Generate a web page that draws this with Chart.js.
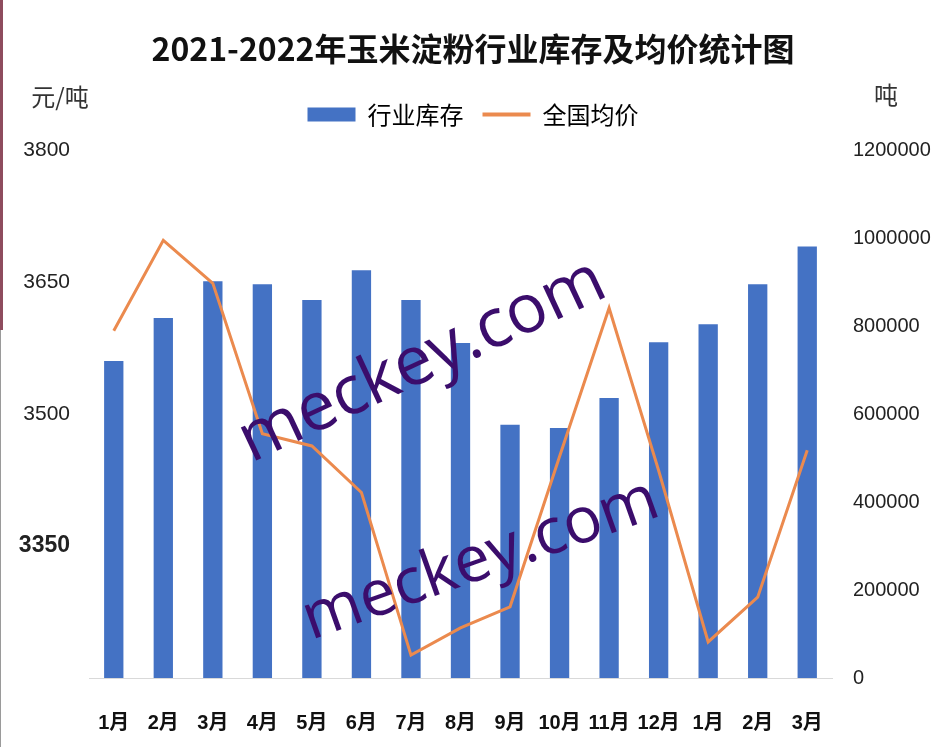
<!DOCTYPE html>
<html><head><meta charset="utf-8">
<script src="https://cdn.jsdelivr.net/npm/chart.js@4.4.0/dist/chart.umd.min.js"></script>
<style>
html,body{margin:0;padding:0;background:#fff;overflow:hidden}
#wrap{position:relative;width:946px;height:747px;background:#fff}
#edge{position:absolute;left:0;top:0;width:3px;height:330px;background:#8e4c5e}
#edge2{position:absolute;left:0;top:330px;width:1px;height:417px;background:#9a9a9a}
</style></head><body>
<div id="wrap"><canvas id="c" width="946" height="747"></canvas><div id="edge"></div><div id="edge2"></div></div>
<script>
const categories = ['1月','2月','3月','4月','5月','6月','7月','8月','9月','10月','11月','12月','1月','2月','3月'];
const inventory = [721000, 819000, 903000, 896000, 860000, 928000, 860000, 762000, 576000, 569000, 637000, 764000, 805000, 896000, 982000];
const avgPrice = [3595, 3698, 3649, 3478, 3464, 3411, 3226, 3257, 3281, 3452, 3621, 3436, 3241, 3292, 3459];
const leftTickLabels = [3350, 3500, 3650, 3800];
const titleText = '2021-2022年玉米淀粉行业库存及均价统计图';
const seriesNames = ['行业库存', '全国均价'];
const unitLeft = '元/吨';
const unitRight = '吨';
const watermarkText = 'meckey.com';

const CJK = '"Noto Sans CJK SC"';
const SANS = '"Liberation Sans", Arial, sans-serif';

const extras = {
  id: 'extras',
  afterDraw(chart) {
    const ctx = chart.ctx;
    ctx.save();
    ctx.fillStyle = '#333';
    ctx.font = '24px ' + CJK;
    ctx.textBaseline = 'middle';
    ctx.textAlign = 'center';
    ctx.fillText(unitLeft, 60, 97);
    ctx.fillText(unitRight, 886, 95);
    // watermarks
    ctx.fillStyle = '#3b0d6c';
    ctx.textAlign = 'left';
    ctx.textBaseline = 'alphabetic';
    const marks = [[251, 463, 610, 295], [311, 640, 663, 515]];
    marks.forEach(([x1, y1, x2, y2]) => {
      const len = Math.hypot(x2 - x1, y2 - y1);
      const ang = Math.atan2(y2 - y1, x2 - x1);
      ctx.font = '66px "Open Sans"';
      const w = ctx.measureText(watermarkText).width;
      const size = 66 * len / w;
      ctx.save();
      ctx.translate(x1, y1);
      ctx.rotate(ang);
      ctx.font = size.toFixed(1) + 'px "Open Sans"';
      ctx.fillText(watermarkText, 0, 0);
      ctx.restore();
    });
    ctx.restore();
  }
};

new Chart(document.getElementById('c'), {
  data: {
    labels: categories,
    datasets: [
      {
        type: 'bar', label: seriesNames[0], data: inventory, yAxisID: 'yR',
        backgroundColor: '#4472C4', borderWidth: 0, order: 2,
        categoryPercentage: 1, barPercentage: 0.39
      },
      {
        type: 'line', label: seriesNames[1], data: avgPrice, yAxisID: 'yL',
        borderColor: '#EB8A4E', backgroundColor: '#EB8A4E', borderWidth: 3,
        pointRadius: 0, tension: 0, order: 1
      }
    ]
  },
  options: {
    responsive: false, animation: false, devicePixelRatio: 1,
    layout: { padding: { left: 0, right: 0, top: 0, bottom: 0 } },
    plugins: {
      title: {
        display: true, text: titleText, color: '#111',
        font: { family: CJK, size: 32, weight: 'bold' },
        padding: { top: 30, bottom: 15 }
      },
      subtitle: {
        display: true, text: ' ', weight: 500,
        font: { size: 1 }, padding: { top: 0, bottom: 13 }
      },
      legend: {
        display: true, position: 'top',
        labels: {
          usePointStyle: true, pointStyleWidth: 48, boxHeight: 14,
          color: '#333', font: { family: CJK, size: 24 }, padding: 19,
          generateLabels(chart) {
            return chart.data.datasets.map((ds, i) => ({
              text: ds.label,
              fillStyle: ds.type === 'bar' ? '#4472C4' : '#EB8A4E',
              strokeStyle: ds.type === 'bar' ? '#4472C4' : '#EB8A4E',
              lineWidth: ds.type === 'bar' ? 0 : 4,
              pointStyle: ds.type === 'bar' ? 'rect' : 'line',
              datasetIndex: i, hidden: false
            }));
          }
        }
      },
      tooltip: { enabled: false }
    },
    scales: {
      x: {
        grid: { display: false, drawTicks: false },
        border: { display: true, color: '#d9d9d9', width: 1 },
        afterFit(s) { s.height = 69; },
        ticks: {
          color: '#111', padding: 33, maxRotation: 0, autoSkip: false,
          font: { family: '"Liberation Sans", ' + CJK, size: 20, weight: 'bold' }
        }
      },
      yL: {
        position: 'left', min: 3200, max: 3800,
        grid: { display: false, drawTicks: false },
        border: { display: false },
        afterFit(s) { s.width = 89; },
        ticks: {
          stepSize: 150, padding: 19, color: '#222',
          callback: v => leftTickLabels.includes(v) ? String(v) : '',
          font: ctx => (ctx.tick && ctx.tick.value === 3350)
            ? { family: SANS, size: 23, weight: 'bold' }
            : { family: SANS, size: 21 }
        }
      },
      yR: {
        position: 'right', min: 0, max: 1200000,
        grid: { display: false, drawTicks: false },
        border: { display: false },
        afterFit(s) { s.width = 114; },
        ticks: {
          stepSize: 200000, padding: 21, color: '#222',
          callback: v => String(v),
          font: { family: SANS, size: 20 }
        }
      }
    }
  },
  plugins: [extras]
});
</script>
</body></html>
